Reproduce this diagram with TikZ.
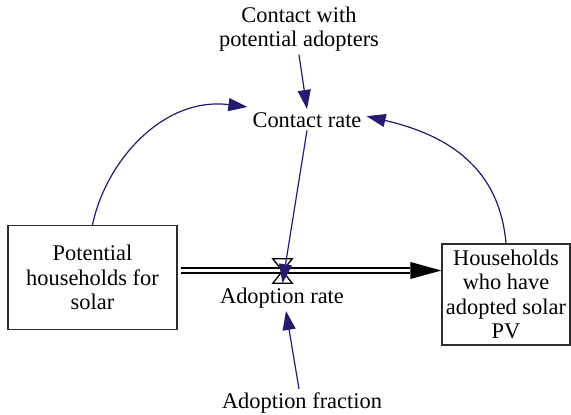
\documentclass[tikz,border=0pt]{standalone}
\usepackage{fontspec}
\setmainfont{Liberation Serif}
\usetikzlibrary{arrows.meta,calc}
\definecolor{linkblue}{RGB}{36,26,112}
\definecolor{boxgray}{RGB}{45,45,45}

\begin{document}
\begin{tikzpicture}[x=1pt,y=-1pt,
  txt/.style={font=\fontsize{22.4}{24.5}\selectfont, align=center},
  lbl/.style={txt, inner sep=3pt},
  stock/.style={txt, draw=boxgray, line width=1.2pt, inner sep=0pt},
  link/.style={draw=linkblue, line width=1.2pt, -{Triangle[length=19pt,width=13pt]}},
  pipeline/.style={draw=black, line width=1.8pt},
  valvebox/.style={minimum width=19pt, minimum height=24pt, inner sep=0pt}]
  \useasboundingbox (0,0) rectangle (571,415);

  % stocks
  \node[stock, minimum width=169pt, minimum height=104pt] (lbox) at (92.5,277.5)
    {Potential\\households for\\solar};
  \node[stock, minimum width=128pt, minimum height=101pt] (rbox) at (506,294.5)
    {Households\\who have\\adopted solar\\PV};

  % auxiliaries and rate labels
  \node[lbl, anchor=north] (cwpa) at (299,3.5) {Contact with\\potential adopters};
  \node[lbl, anchor=base] (crate) at (307,127) {Contact rate};
  \node[lbl, anchor=base] (arate) at (282,303) {Adoption rate};
  \node[lbl, anchor=base] (afrac) at (302,408) {Adoption fraction};

  % flow pipe with its head
  \coordinate (pipeL) at ($(lbox.east)+(3,-7)$);
  \coordinate (pipeR) at (rbox.west |- pipeL);
  \coordinate (headbase) at ($(pipeR)+(-31,0)$);
  \draw[pipeline] ($(pipeL)+(0,-2.75)$) -- ($(headbase)+(0,-2.75)$);
  \draw[pipeline] ($(pipeL)+(0,2.75)$) -- ($(headbase)+(0,2.75)$);
  \fill[black] (pipeR) -- ($(headbase)+(0,-8.5)$) -- ($(headbase)+(0,8.5)$) -- cycle;

  % valve
  \node[valvebox] (valve) at (282.5,271) {};
  \draw[line width=1.3pt, fill=white] (valve.north west) -- (valve.north east)
    -- (valve.south west) -- (valve.south east) -- cycle;

  % information links
  \draw[link] (cwpa.south) -- (crate.north);
  \draw[link] (crate.south) -- (valve.south);
  \draw[link] ([xshift=-3pt]afrac.north) -- ([xshift=4pt]arate.south);
  \draw[link] (lbox.north) .. controls +(13.3,-64) and +(-84,-10.5)
    .. ($(crate.north west)+(-2,-2)$);
  \draw[link] (rbox.north) .. controls +(-6.5,-74.7) and +(82.8,19.1)
    .. ($(crate.east)+(2,-3.5)$);
\end{tikzpicture}
\end{document}
